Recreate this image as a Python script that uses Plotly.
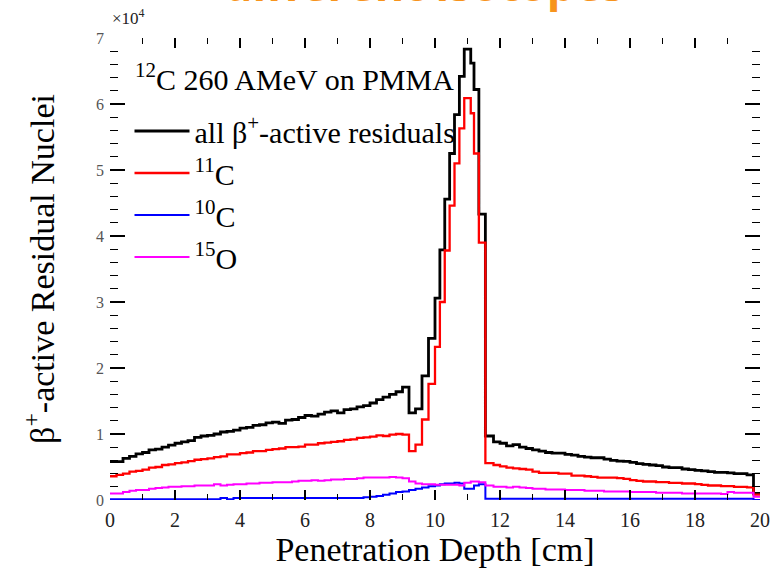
import numpy as np
import plotly.graph_objects as go

# ---- bin edges (cm) ----
edges = list(np.round(np.arange(0.0, 9.81, 0.2), 2)) + \
        [10.0, 10.15, 10.3, 10.45, 10.6, 10.75, 10.9, 11.1, 11.2, 11.35, 11.55, 11.8] + \
        list(np.round(np.arange(12.0, 20.01, 0.2), 2))

# ---- counts, in units of 10^4 ----
all_beta = [
    0.58, 0.58, 0.63, 0.66, 0.70, 0.72, 0.76, 0.77, 0.80, 0.83,
    0.86, 0.88, 0.90, 0.95, 0.97, 0.98, 1.00, 1.03, 1.04, 1.06,
    1.09, 1.10, 1.13, 1.14, 1.17, 1.18, 1.16, 1.21, 1.22, 1.25,
    1.28, 1.27, 1.30, 1.33, 1.35, 1.32, 1.37, 1.38, 1.41, 1.43,
    1.47, 1.52, 1.56, 1.60, 1.64, 1.71, 1.32, 1.38, 1.88,
    2.45,
    3.06, 3.79, 4.56, 5.25, 5.84, 6.42, 6.83, 6.62, 6.22, 4.33, 0.97,
    0.88,
    0.86, 0.82, 0.84, 0.80, 0.78, 0.76, 0.74, 0.72, 0.71, 0.71,
    0.69, 0.68, 0.66, 0.65, 0.64, 0.64, 0.62, 0.60, 0.59, 0.585,
    0.57, 0.55, 0.54, 0.53, 0.52, 0.50, 0.49, 0.49, 0.47, 0.46,
    0.45, 0.44, 0.43, 0.42, 0.42, 0.41, 0.40, 0.40, 0.38, 0.10,
]
c11 = [
    0.36, 0.38, 0.40, 0.43, 0.44, 0.46, 0.49, 0.50, 0.53, 0.54,
    0.56, 0.57, 0.59, 0.61, 0.62, 0.63, 0.65, 0.66, 0.69, 0.69,
    0.71, 0.72, 0.74, 0.74, 0.76, 0.77, 0.78, 0.80, 0.80, 0.81,
    0.84, 0.84, 0.86, 0.87, 0.88, 0.89, 0.91, 0.92, 0.94, 0.95,
    0.96, 0.98, 0.97, 0.99, 1.00, 0.99, 0.74, 0.84, 1.22,
    1.76,
    2.32, 3.00, 3.78, 4.46, 5.10, 5.63, 6.09, 5.86, 5.25, 3.90, 0.56,
    0.53,
    0.51, 0.49, 0.48, 0.47, 0.46, 0.43, 0.41, 0.41, 0.41, 0.40,
    0.40, 0.37, 0.37, 0.36, 0.35, 0.34, 0.34, 0.34, 0.33, 0.32,
    0.30, 0.29, 0.28, 0.28, 0.27, 0.27, 0.26, 0.26, 0.25, 0.25,
    0.24, 0.23, 0.22, 0.22, 0.21, 0.21, 0.20, 0.20, 0.19, 0.08,
]
c10 = [
    0.01, 0.01, 0.01, 0.01, 0.01, 0.01, 0.01, 0.01, 0.01, 0.01,
    0.01, 0.01, 0.01, 0.01, 0.01, 0.01, 0.01, 0.03, 0.01, 0.03,
    0.03, 0.03, 0.03, 0.03, 0.03, 0.03, 0.03, 0.03, 0.03, 0.03,
    0.03, 0.03, 0.03, 0.03, 0.03, 0.03, 0.03, 0.03, 0.03, 0.04,
    0.05, 0.06, 0.08, 0.10, 0.12, 0.13, 0.15, 0.17, 0.19,
    0.21,
    0.22, 0.24, 0.25, 0.25, 0.26, 0.25, 0.17, 0.17, 0.22, 0.24, 0.02,
    0.02,
    0.02, 0.02, 0.02, 0.02, 0.02, 0.02, 0.02, 0.02, 0.02, 0.02,
    0.02, 0.02, 0.02, 0.02, 0.02, 0.02, 0.02, 0.02, 0.02, 0.02,
    0.02, 0.02, 0.02, 0.02, 0.02, 0.02, 0.02, 0.02, 0.02, 0.02,
    0.02, 0.02, 0.02, 0.02, 0.02, 0.02, 0.02, 0.02, 0.02, 0.00,
]
o15 = [
    0.10, 0.10, 0.12, 0.14, 0.15, 0.15, 0.17, 0.18, 0.19, 0.20,
    0.20, 0.21, 0.21, 0.22, 0.22, 0.22, 0.24, 0.22, 0.23, 0.24,
    0.24, 0.25, 0.25, 0.26, 0.26, 0.27, 0.27, 0.27, 0.28, 0.29,
    0.29, 0.30, 0.29, 0.30, 0.31, 0.31, 0.32, 0.32, 0.33, 0.34,
    0.34, 0.34, 0.34, 0.35, 0.34, 0.33, 0.28, 0.25, 0.24,
    0.24,
    0.23, 0.23, 0.23, 0.23, 0.23, 0.22, 0.26, 0.28, 0.28, 0.27, 0.22,
    0.20,
    0.20, 0.19, 0.20, 0.19, 0.18, 0.17, 0.17, 0.16, 0.16, 0.16,
    0.15, 0.15, 0.15, 0.14, 0.14, 0.14, 0.13, 0.13, 0.13, 0.13,
    0.12, 0.12, 0.12, 0.12, 0.11, 0.11, 0.11, 0.11, 0.10, 0.10,
    0.10, 0.10, 0.10, 0.10, 0.09, 0.12, 0.11, 0.11, 0.11, 0.05,
]

series_names = ["all β<sup>+</sup>-active residuals", "<sup>11</sup>C", "<sup>10</sup>C", "<sup>15</sup>O"]
series_vals = [all_beta, c11, c10, o15]
series_colors = ["#000000", "#ff0000", "#0000ff", "#ff00ff"]
series_widths = [2.8, 2.3, 2.0, 2.0]

x_ticks = list(range(0, 21, 2))
y_ticks = list(range(0, 8))

SERIF = "Liberation Serif, Times New Roman, serif"

fig = go.Figure()
for name, vals, col, w in zip(series_names, series_vals, series_colors, series_widths):
    fig.add_trace(go.Scatter(
        x=edges, y=list(vals) + [vals[-1]],
        mode="lines", line=dict(color=col, width=w, shape="hv"),
        name=name,
    ))

fig.update_layout(
    width=782, height=574,
    margin=dict(l=110, r=15, t=38, b=74),
    paper_bgcolor="white", plot_bgcolor="white",
    font=dict(family=SERIF, color="black"),
    showlegend=True,
    legend=dict(
        x=0.03, y=0.855, xanchor="left", yanchor="top",
        bgcolor="rgba(0,0,0,0)",
        font=dict(family=SERIF, size=30, color="black"),
        itemwidth=55,
        tracegroupgap=0,
    ),
)

fig.update_xaxes(
    range=[0, 20], tickvals=x_ticks, ticktext=[str(v) for v in x_ticks],
    ticks="inside", ticklen=10, tickwidth=1.5, tickcolor="black",
    minor=dict(dtick=1, ticks="inside", ticklen=6, tickwidth=1.2, tickcolor="black"),
    showline=False, mirror="ticks", showgrid=False, zeroline=False,
    ticklabelstandoff=6,
    tickfont=dict(family=SERIF, size=20, color="#222"),
    title=dict(text="Penetration Depth [cm]", font=dict(family=SERIF, size=34), standoff=6),
)
fig.update_yaxes(
    range=[0, 7], tickvals=y_ticks, ticktext=[str(v) for v in y_ticks],
    ticks="inside", ticklen=15, tickwidth=1.5, tickcolor="black",
    minor=dict(dtick=0.2, ticks="inside", ticklen=8, tickwidth=1.2, tickcolor="black"),
    showline=False, mirror="ticks", showgrid=False, zeroline=False,
    ticklabelstandoff=5,
    tickfont=dict(family=SERIF, size=16, color="#555"),
    title=dict(text="β<sup>+</sup>-active Residual Nuclei", font=dict(family=SERIF, size=34), standoff=31),
)

# legend header
fig.add_annotation(
    text="<sup>12</sup>C 260 AMeV on PMMA", xref="paper", yref="paper",
    x=0.036, y=0.916, xanchor="left", yanchor="middle", showarrow=False,
    font=dict(family=SERIF, size=30, color="black"),
)
fig.add_annotation(
    text="×10<sup>4</sup>", xref="paper", yref="paper", x=0.0, y=1.0,
    xanchor="left", yanchor="bottom", yshift=8, showarrow=False,
    font=dict(family=SERIF, size=17, color="#222"),
)
fig.add_annotation(
    text="different isotopes", xref="paper", yref="paper", x=0.483, y=1.0,
    xanchor="center", yanchor="bottom", yshift=22, showarrow=False,
    font=dict(family="Open Sans", size=45, color="#F7941D", weight="bold"),
)

fig.write_html("out.html")
